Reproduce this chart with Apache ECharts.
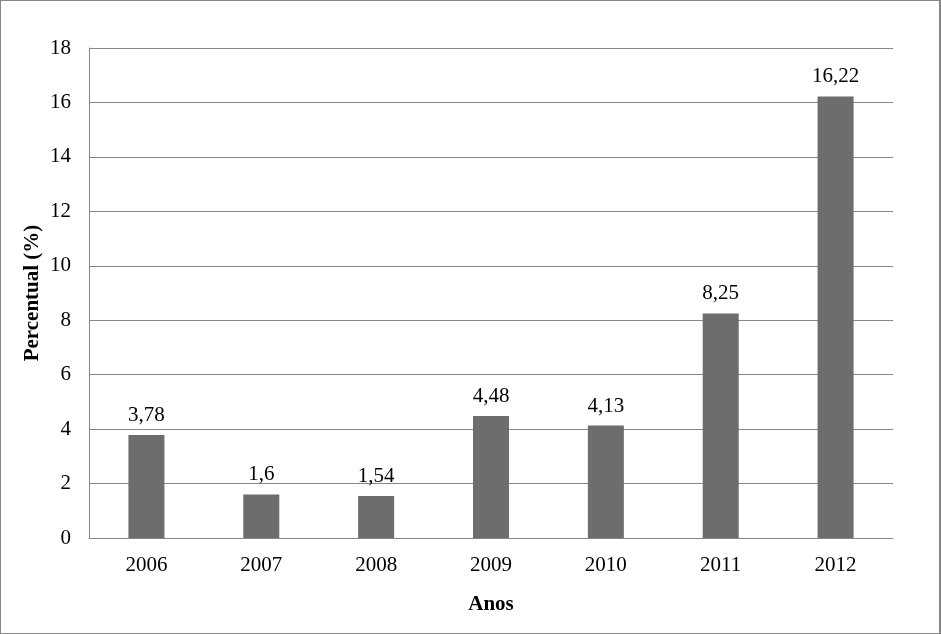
<!DOCTYPE html>
<html>
<head>
<meta charset="utf-8">
<script src="https://cdn.jsdelivr.net/npm/echarts@6/dist/echarts.min.js"></script>
<style>
html,body{margin:0;padding:0;background:#fff;}
#c{width:941px;height:634px;box-sizing:border-box;border:1px solid #868686;border-right-width:2px;}
</style>
</head>
<body>
<div id="c"></div>
<script>
const categories = ['2006','2007','2008','2009','2010','2011','2012'];
const values = [3.78, 1.6, 1.54, 4.48, 4.13, 8.25, 16.22];
const valueLabels = ['3,78','1,6','1,54','4,48','4,13','8,25','16,22'];
const yAxisName = 'Percentual (%)';
const xAxisName = 'Anos';

const chart = echarts.init(document.getElementById('c'));
const font = 'Liberation Serif, Times New Roman, serif';
chart.setOption({
  animation: false,
  textStyle: { fontFamily: font },
  grid: { left: 88, right: 46, top: 47, bottom: 95 },
  xAxis: {
    type: 'category',
    data: categories,
    name: xAxisName,
    nameLocation: 'middle',
    nameGap: 56,
    nameMoveOverlap: false,
    nameTextStyle: { fontFamily: font, fontSize: 21, fontWeight: 'bold', color: '#000' },
    axisLine: { lineStyle: { color: '#868686', width: 1 } },
    axisTick: { show: false },
    axisLabel: { fontFamily: font, fontSize: 21, color: '#000', margin: 17 }
  },
  yAxis: {
    type: 'value',
    min: 0, max: 18, interval: 2,
    name: yAxisName,
    nameLocation: 'middle',
    nameGap: 46,
    nameMoveOverlap: false,
    nameTextStyle: { fontFamily: font, fontSize: 21, fontWeight: 'bold', color: '#000' },
    axisLine: { show: true, lineStyle: { color: '#868686', width: 1 } },
    axisTick: { show: false },
    splitLine: { lineStyle: { color: '#868686', width: 1 } },
    axisLabel: { fontFamily: font, fontSize: 21, color: '#000', margin: 18 }
  },
  series: [{
    type: 'bar',
    data: values,
    barWidth: 36,
    itemStyle: { color: '#6d6d6d' },
    label: {
      show: true,
      position: 'top',
      distance: 9,
      fontFamily: font,
      fontSize: 21,
      color: '#000',
      formatter: p => valueLabels[p.dataIndex]
    }
  }]
});
</script>
</body>
</html>
